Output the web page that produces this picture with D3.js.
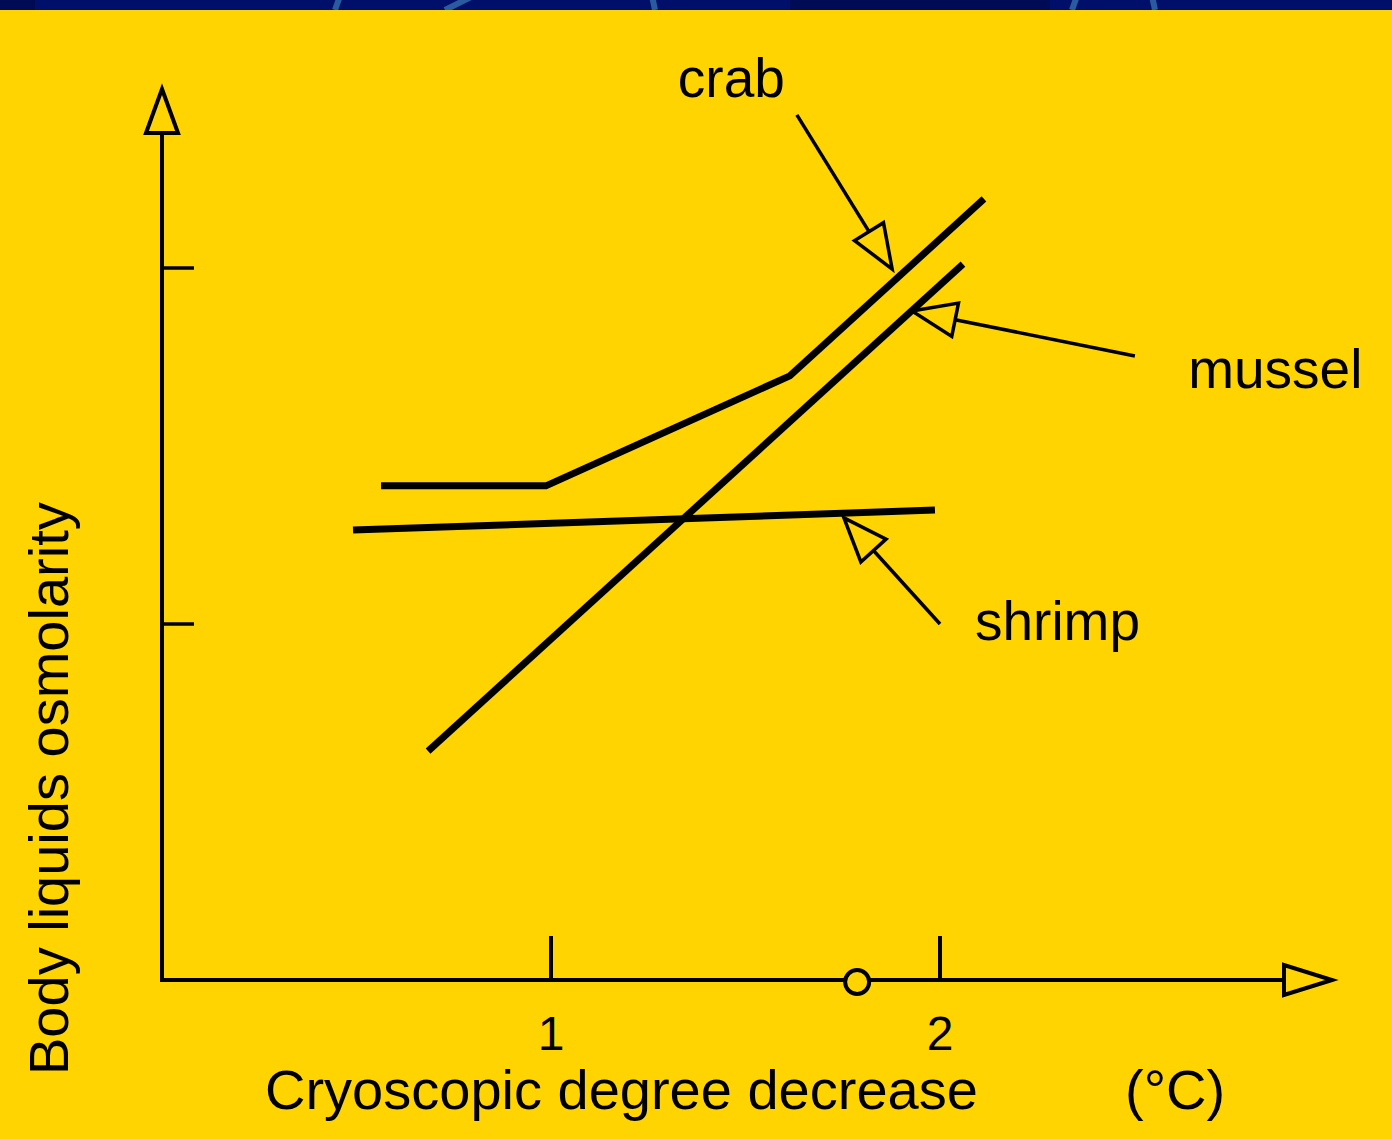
<!DOCTYPE html>
<html>
<head>
<meta charset="utf-8">
<script src="https://cdn.jsdelivr.net/npm/d3@7"></script>
<style>
  html, body { margin: 0; padding: 0; background: #ffd400; }
  svg { display: block; }
  text { font-family: "Liberation Sans", Arial, sans-serif; fill: #000; }
</style>
</head>
<body>
<svg id="chart" width="1392" height="1139"></svg>
<script>
// series: [cryoscopic decrease (°C), osmolarity (axis units)]
var crab = [[0.563, 1.388], [0.987, 1.388], [1.614, 1.697], [2.113, 2.194]];
var mussel = [[0.684, 0.643], [2.059, 2.011]];
var shrimp = [[0.491, 1.264], [1.987, 1.320]];

var x_ticks = [1, 2];
var y_ticks = [1, 2];
var marker_x = [1.787];

// callout labels and arrows: [label x, label y], arrow tail -> tip
var label_names = ['crab', 'mussel', 'shrimp'];
var label_pos = [[1.326, 2.480], [2.638, 1.663], [2.090, 0.955]];
var arrow_tail = [[1.632, 2.430], [2.501, 1.753], [2.000, 1.000]];
var arrow_tip = [[1.877, 1.997], [1.928, 1.879], [1.753, 1.298]];

var svg = d3.select('#chart');
var width = +svg.attr('width'), height = +svg.attr('height');

var x = d3.scaleLinear().domain([0, 3]).range([162, 1329]);
var y = d3.scaleLinear().domain([0, 2.5]).range([980, 90]);

// background + dark top band
svg.append('rect').attr('width', width).attr('height', height).attr('fill', '#ffd400');
var band = svg.append('g');
band.append('rect').attr('width', width).attr('height', 10).attr('fill', '#00106a');
band.append('clipPath').attr('id', 'bandclip').append('rect').attr('width', width).attr('height', 10);
var arcs = band.append('g').attr('clip-path', 'url(#bandclip)');
arcs.append('rect').attr('x', 0).attr('width', 35).attr('height', 10).attr('fill', '#000b55');
arcs.append('rect').attr('x', 790).attr('width', 260).attr('height', 10).attr('fill', '#000b55');
[[335, 5], [445, 28], [655, -3], [1072, 5], [1155, -3]].forEach(function(a) {
	arcs.append('line').attr('x1', a[0]).attr('y1', 10).attr('x2', a[0] + a[1]).attr('y2', -4)
		.attr('stroke', '#2a5aa0').attr('stroke-width', 6);
});

function arrow_head(g, p0, p1, len, half, sw) {
	// open triangle with tip at p1, pointing from p0
	var dx = p1[0] - p0[0], dy = p1[1] - p0[1];
	var d = Math.sqrt(dx * dx + dy * dy);
	var ux = dx / d, uy = dy / d;
	var bx = p1[0] - ux * len, by = p1[1] - uy * len;
	var pts = [[p1[0], p1[1]], [bx - uy * half, by + ux * half], [bx + uy * half, by - ux * half]];
	g.append('path').attr('d', d3.line()(pts) + 'Z')
		.attr('fill', '#ffd400').attr('stroke', '#000').attr('stroke-width', sw)
		.attr('stroke-linejoin', 'miter');
	return [bx, by];
}

// axes
var axes = svg.append('g');
var x_end = x(3) + 3, y_end = y(2.5) - 1;
var xb = arrow_head(axes, [x(0), y(0)], [x_end, y(0)], 48, 15, 4);
var yb = arrow_head(axes, [x(0), y(0)], [x(0), y_end], 44, 16, 4);
axes.append('line').attr('x1', x(0) - 2).attr('y1', y(0)).attr('x2', xb[0]).attr('y2', y(0))
	.attr('stroke', '#000').attr('stroke-width', 4);
axes.append('line').attr('x1', x(0)).attr('y1', y(0) + 2).attr('x2', x(0)).attr('y2', yb[1])
	.attr('stroke', '#000').attr('stroke-width', 4);

axes.selectAll('.xt').data(x_ticks).enter().append('line')
	.attr('x1', d => x(d)).attr('x2', d => x(d)).attr('y1', y(0)).attr('y2', y(0) - 44)
	.attr('stroke', '#000').attr('stroke-width', 4);
axes.selectAll('.yt').data(y_ticks).enter().append('line')
	.attr('x1', x(0)).attr('x2', x(0) + 32).attr('y1', d => y(d)).attr('y2', d => y(d))
	.attr('stroke', '#000').attr('stroke-width', 3.5);
axes.selectAll('.xl').data(x_ticks).enter().append('text')
	.attr('x', d => x(d)).attr('y', 1050).attr('text-anchor', 'middle')
	.attr('font-size', 48).text(d => d);

axes.selectAll('.mk').data(marker_x).enter().append('circle')
	.attr('cx', d => x(d)).attr('cy', y(0) + 2).attr('r', 12)
	.attr('fill', '#ffd400').attr('stroke', '#000').attr('stroke-width', 4);

// axis titles
svg.append('text').attr('x', 265).attr('y', 1109).attr('font-size', 56).text('Cryoscopic degree decrease');
svg.append('text').attr('x', 1125).attr('y', 1109).attr('font-size', 56).text('(°C)');
svg.append('text').attr('transform', 'translate(68,1075) rotate(-90)').attr('font-size', 56)
	.text('Body liquids osmolarity');

// data lines
var line = d3.line().x(d => x(d[0])).y(d => y(d[1]));
svg.selectAll('.series').data([crab, mussel, shrimp]).enter().append('path')
	.attr('d', line).attr('fill', 'none').attr('stroke', '#000').attr('stroke-width', 7)
	.attr('stroke-linejoin', 'miter');

// callouts
var ann = svg.append('g');
label_names.forEach(function(name, i) {
	var t0 = [x(arrow_tail[i][0]), y(arrow_tail[i][1])];
	var t1 = [x(arrow_tip[i][0]), y(arrow_tip[i][1])];
	var b = arrow_head(ann, t0, t1, 44, 17, 3.5);
	ann.append('line').attr('x1', t0[0]).attr('y1', t0[1]).attr('x2', b[0]).attr('y2', b[1])
		.attr('stroke', '#000').attr('stroke-width', 3.5);
	ann.append('text').attr('x', x(label_pos[i][0])).attr('y', y(label_pos[i][1]))
		.attr('font-size', 55).text(name);
});
</script>
</body>
</html>
